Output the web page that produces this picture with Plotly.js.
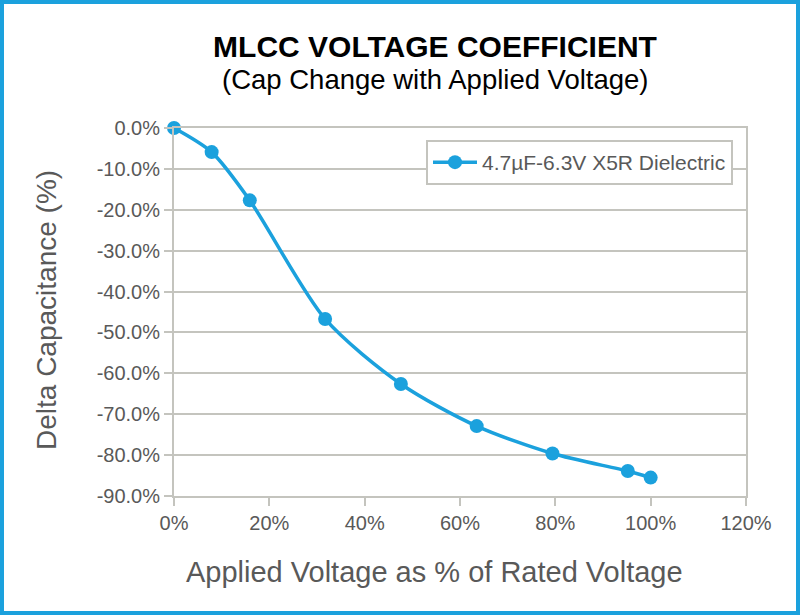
<!DOCTYPE html>
<html>
<head>
<meta charset="utf-8">
<script src="https://cdn.plot.ly/plotly-3.0.1.min.js"></script>
<style>
  html, body { margin: 0; padding: 0; background: #ffffff; }
  #wrap { position: relative; width: 800px; height: 615px; }
  #chart { position: absolute; left: 0; top: 0; width: 800px; height: 615px; }
  #frame { position: absolute; left: 0; top: 0; width: 800px; height: 615px; box-sizing: border-box; border: 4px solid #1ba1dd; pointer-events: none; }
</style>
</head>
<body>
<div id="wrap">
  <div id="chart"></div>
  <div id="frame"></div>
</div>
<script>
// Applied voltage as % of rated voltage (0, 0.5, 1, 2, 3, 4, 5, 6, 6.3 V of 6.3 V)
const appliedVoltagePct = [0, 7.9, 15.9, 31.7, 47.6, 63.5, 79.4, 95.2, 100];
// Delta capacitance (%)
const deltaCapPct = [0, -5.9, -17.7, -46.7, -62.6, -72.9, -79.6, -83.9, -85.5];
const seriesName = '4.7\u00b5F-6.3V X5R Dielectric';
// Y tick values and labels
const yTickVals = [0, -10, -20, -30, -40, -50, -60, -70, -80, -90];
const yTickText = ['0.0%', '-10.0%', '-20.0%', '-30.0%', '-40.0%', '-50.0%', '-60.0%', '-70.0%', '-80.0%', '-90.0%'];
// X tick values and labels
const xTickVals = [0, 20, 40, 60, 80, 100, 120];
const xTickText = ['0%', '20%', '40%', '60%', '80%', '100%', '120%'];

const blue = '#1ba1dd';
const gridCol = '#c4c4be';
const textGray = '#595959';
const fontFam = 'Liberation Sans, Arial, sans-serif';

const trace = {
  x: appliedVoltagePct,
  y: deltaCapPct,
  name: seriesName,
  type: 'scatter',
  mode: 'lines+markers',
  line: { color: blue, width: 3.5, shape: 'spline', smoothing: 0.8 },
  marker: { color: blue, size: 14 },
  cliponaxis: false,
  showlegend: true
};

const layout = {
  width: 800,
  height: 615,
  margin: { l: 174, r: 54, t: 128, b: 119 },
  paper_bgcolor: '#ffffff',
  plot_bgcolor: '#ffffff',
  font: { family: fontFam, color: textGray, size: 20 },
  title: {
    text: '<b>MLCC VOLTAGE COEFFICIENT</b>',
    font: { family: fontFam, size: 30, color: '#000000' },
    xref: 'container', yref: 'container',
    x: 435 / 800, xanchor: 'center',
    y: 1 - 46 / 615, yanchor: 'middle'
  },
  xaxis: {
    range: [0, 120],
    tickvals: xTickVals,
    ticktext: xTickText,
    showgrid: false,
    zeroline: false,
    showline: true,
    linecolor: gridCol,
    linewidth: 2,
    mirror: true,
    ticks: 'outside',
    ticklen: 8,
    tickwidth: 2,
    tickcolor: gridCol,
    tickfont: { size: 20, color: textGray, family: fontFam },
    fixedrange: true
  },
  yaxis: {
    range: [-90, 0],
    tickvals: yTickVals,
    ticktext: yTickText,
    showgrid: true,
    gridcolor: gridCol,
    gridwidth: 2,
    zeroline: false,
    showline: true,
    linecolor: gridCol,
    linewidth: 2,
    mirror: true,
    ticks: 'outside',
    ticklen: 8,
    tickwidth: 2,
    tickcolor: gridCol,
    tickfont: { size: 20, color: textGray, family: fontFam },
    fixedrange: true
  },
  legend: {
    x: (733 - 174) / 572, xanchor: 'right',
    y: (496 - 140) / 368, yanchor: 'top',
    bgcolor: '#ffffff',
    bordercolor: gridCol,
    borderwidth: 2,
    font: { size: 21, color: textGray, family: fontFam },
    itemwidth: 44
  },
  annotations: [
    {
      text: '(Cap Change with Applied Voltage)',
      xref: 'paper', yref: 'paper',
      x: (435 - 174) / 572, y: (496 - 79) / 368,
      xanchor: 'center', yanchor: 'middle',
      showarrow: false,
      font: { family: fontFam, size: 27.5, color: '#000000' }
    },
    {
      text: 'Applied Voltage as % of Rated Voltage',
      xref: 'paper', yref: 'paper',
      x: (434 - 174) / 572, y: (496 - 572) / 368,
      xanchor: 'center', yanchor: 'middle',
      showarrow: false,
      font: { family: fontFam, size: 29, color: textGray }
    },
    {
      text: 'Delta Capacitance (%)',
      xref: 'paper', yref: 'paper',
      x: (46 - 174) / 572, y: (496 - 310) / 368,
      xanchor: 'center', yanchor: 'middle',
      textangle: -90,
      showarrow: false,
      font: { family: fontFam, size: 28, color: textGray }
    }
  ],
  showlegend: true
};

Plotly.newPlot('chart', [trace], layout, { displayModeBar: false, staticPlot: true });
</script>
</body>
</html>
